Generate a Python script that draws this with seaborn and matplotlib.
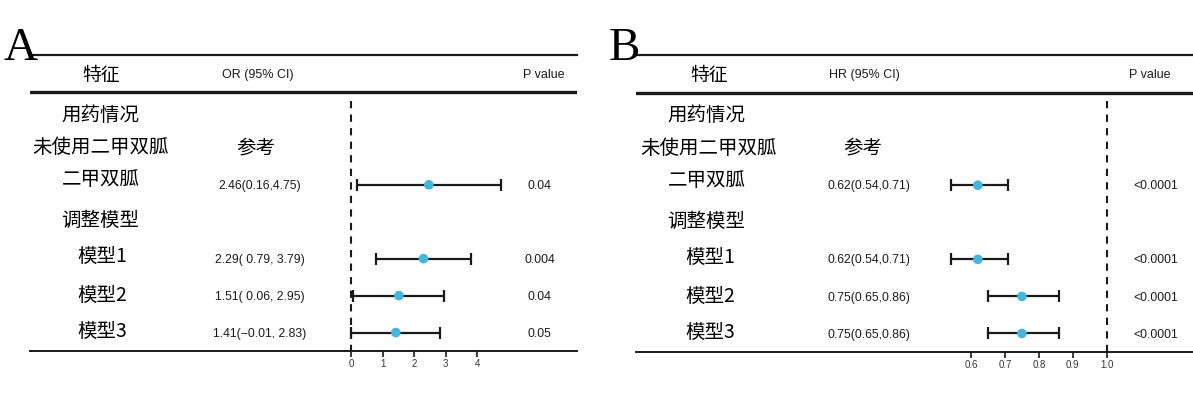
import numpy as np
import pandas as pd
import matplotlib
matplotlib.use("Agg")
import matplotlib.pyplot as plt
import matplotlib.transforms as mtransforms
import seaborn as sns

# row labels (left column) and their table rows
row_labels = ["用药情况", "未使用二甲双胍", "二甲双胍", "调整模型", "模型1", "模型2", "模型3"]
label_rows = [1.12, 2.0, 2.87, 3.97, 4.95, 6.0, 6.97]
label_indent = ["grp", "ref", "grp", "grp", "sub", "sub", "sub"]
est_rows = [3, 5, 6, 7]

# panel A: OR
or_est = [2.46, 2.29, 1.51, 1.41]
or_lo = [0.16, 0.79, 0.06, -0.01]
or_hi = [4.75, 3.79, 2.95, 2.83]
or_text = ["2.46(0.16,4.75)", "2.29( 0.79, 3.79)", "1.51( 0.06, 2.95)", "1.41(\u22120.01, 2.83)"]
or_p = ["0.04", "0.004", "0.04", "0.05"]
or_ticks = [0, 1, 2, 3, 4]

# panel B: HR
hr_est = [0.62, 0.62, 0.75, 0.75]
hr_lo = [0.54, 0.54, 0.65, 0.65]
hr_hi = [0.71, 0.71, 0.86, 0.86]
hr_text = ["0.62(0.54,0.71)", "0.62(0.54,0.71)", "0.75(0.65,0.86)", "0.75(0.65,0.86)"]
hr_p = ["<0.0001", "<0.0001", "<0.0001", "<0.0001"]
hr_ticks = [0.6, 0.7, 0.8, 0.9, 1.0]
hr_ticklabels = ["0.6", "0.7", "0.8", "0.9", "1.0"]

sns.set_theme(style="white")
plt.rcParams['font.family'] = ['Noto Sans CJK SC', 'DejaVu Sans']

CJK = ['Noto Sans CJK SC', 'DejaVu Sans']
LAT = ['Liberation Sans', 'DejaVu Sans']
DOT = "#45B5DA"
INK = "#1a1a1a"

W, H = 1193, 397
fig = plt.figure(figsize=(W / 100, H / 100), dpi=100)


def panel(rect_px, xlim, ticks, ticklabels, ref, est, lo, hi, txt, pv,
          head, pos, letter, letter_x):
    l, t, r, b = rect_px
    ax = fig.add_axes([l / W, 1 - b / H, (r - l) / W, (b - t) / H])
    ax.set_xlim(*xlim)
    ax.set_ylim(7.5, -0.514)

    df = pd.DataFrame({"est": est, "lo": lo, "hi": hi, "row": est_rows})
    ax.errorbar(df["est"], df["row"],
                xerr=[df["est"] - df["lo"], df["hi"] - df["est"]],
                fmt="none", ecolor=INK, elinewidth=1.6, capsize=4.5,
                capthick=1.6, zorder=2)
    sns.scatterplot(data=df, x="est", y="row", color=DOT, s=48,
                    edgecolor="none", zorder=3, ax=ax, legend=False)
    ax.vlines(ref, 0.72, 7.5, colors=INK, linestyles=(0, (3.5, 3)), lw=1.5)

    for s in ["left", "right"]:
        ax.spines[s].set_visible(False)
    ax.spines["top"].set_linewidth(1.6)
    ax.spines["top"].set_color(INK)
    ax.spines["bottom"].set_linewidth(1.4)
    ax.spines["bottom"].set_color(INK)
    ax.axhline(0.5, color=INK, lw=2.4)

    ax.set_xticks(ticks)
    ax.set_xticklabels(ticklabels)
    ax.set_yticks([])
    ax.tick_params(axis="x", direction="out", length=4, width=1.2,
                   color=INK, labelsize=7, labelcolor="#333333", pad=2,
                   bottom=True, labelfontfamily="Liberation Sans")
    ax.set_xlabel("")
    ax.set_ylabel("")
    ax.grid(False)

    tr = mtransforms.blended_transform_factory(ax.transAxes, ax.transData)
    # header
    ax.text(pos["feat"], 0.03, "特征", transform=tr, ha="center", va="center",
            fontsize=13.5, family=CJK, color="black")
    ax.text(pos["head"], 0.03, head, transform=tr, ha="left", va="center",
            fontsize=9, family=LAT, color=INK)
    ax.text(pos["phead"], 0.03, "P value", transform=tr, ha="center", va="center",
            fontsize=9, family=LAT, color=INK)
    # row labels
    for lab, y, kind in zip(row_labels, label_rows, label_indent):
        ax.text(pos[kind], y, lab, transform=tr, ha="left", va="center",
                fontsize=14, family=CJK, color="black")
    ax.text(pos["refx"], 2.0, "参考", transform=tr, ha="center", va="center",
            fontsize=14, family=CJK, color="black")
    for y, s, p in zip(est_rows, txt, pv):
        ax.text(pos["val"], y + 0.03, s, transform=tr, ha="center", va="center",
                fontsize=8.8, family=LAT, color=INK)
        ax.text(pos["p"], y + 0.03, p, transform=tr, ha="center", va="center",
                fontsize=8.8, family=LAT, color=INK)

    fig.text(letter_x / W, 1 - 60 / H, letter, ha="left", va="baseline",
             fontsize=34, family=['Liberation Serif', 'DejaVu Serif'],
             color="black")
    return ax


# A: 0 at px 351.5, 31.45 px per unit
panel((30, 55, 577, 351), (-10.22, 7.17), or_ticks, [str(t) for t in or_ticks],
      0, or_est, or_lo, or_hi, or_text, or_p, "OR (95% CI)",
      dict(feat=0.130, head=0.351, phead=0.940, grp=0.0575, ref=0.004,
           sub=0.087, refx=0.413, val=0.4205, p=0.932),
      "A", 4)

# B: 0.6 at px 971, 338.75 px per unit
panel((636, 55, 1193, 352), (-0.389, 1.255), hr_ticks, hr_ticklabels,
      1.0, hr_est, hr_lo, hr_hi, hr_text, hr_p, "HR (95% CI)",
      dict(feat=0.131, head=0.3465, phead=0.923, grp=0.0565, ref=0.008,
           sub=0.089, refx=0.4075, val=0.418, p=0.9336),
      "B", 609)

fig.savefig("out.png", dpi=100, facecolor="white")
